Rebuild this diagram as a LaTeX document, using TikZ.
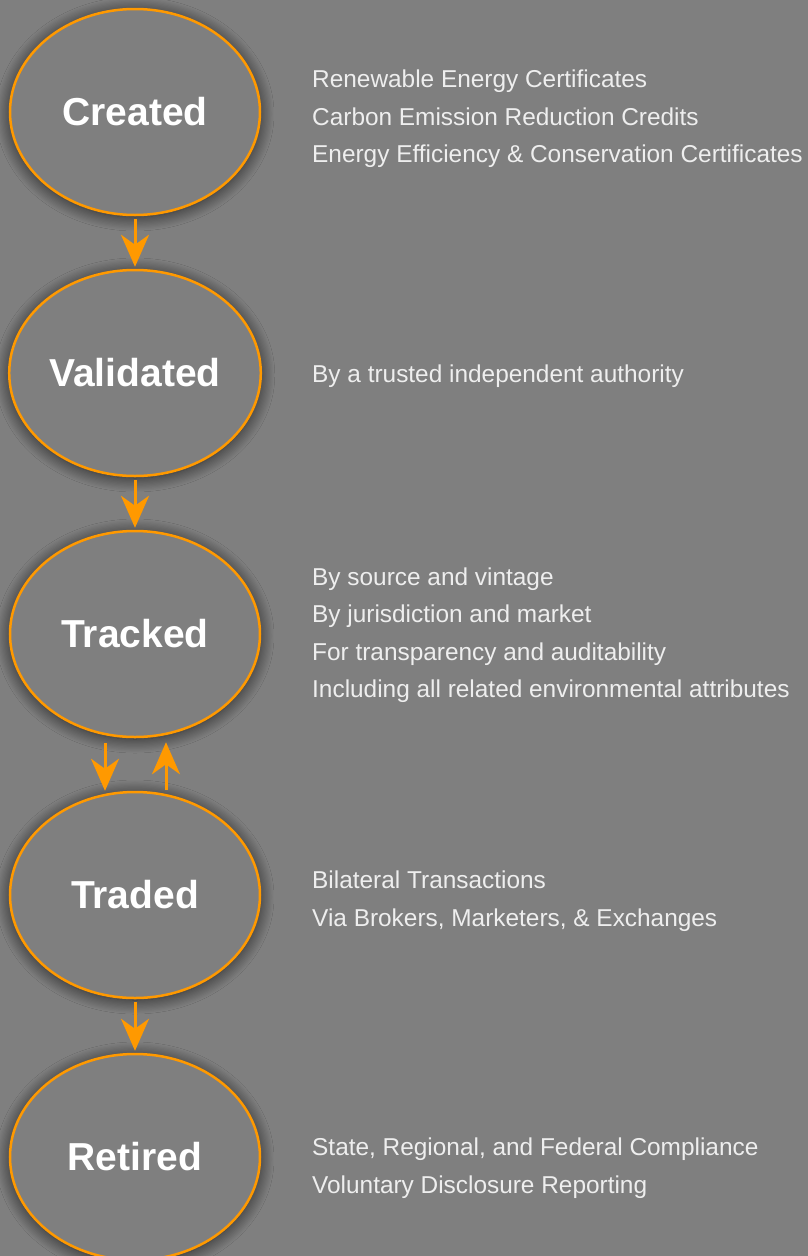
\documentclass[tikz,border=0pt]{standalone}
\usepackage{fontspec}
\setmainfont{Liberation Sans}
\usetikzlibrary{arrows.meta}
\usetikzlibrary{shapes.geometric}
\usetikzlibrary{shadows.blur}

\definecolor{bggray}{RGB}{127,127,127}
\definecolor{amber}{RGB}{255,153,0}
\definecolor{notegray}{RGB}{238,238,238}

\tikzset{
	stage/.style={ellipse, draw=amber, line width=2.5pt, fill=bggray,
		minimum width=250pt, minimum height=206pt, text=white,
		font=\fontsize{39}{44}\selectfont\bfseries,
		blur shadow={shadow xshift=0pt, shadow yshift=-2pt, shadow blur radius=14pt, shadow opacity=75, shadow blur steps=12}},
	note/.style={anchor=west, align=left, inner sep=0pt, text=notegray,
		font=\fontsize{24.4}{37.5}\selectfont},
	flow/.style={draw=amber, line width=3pt, -{Stealth[length=32pt,width=28pt,inset=10pt]}}
}

\begin{document}
\begin{tikzpicture}[x=1pt,y=-1pt]
		\fill[bggray] (0,0) rectangle (808,1256);
		\useasboundingbox (0,0) rectangle (808,1256);
		% the five stages
		\node[stage] (created) at (135,112) {Created};
		\node[stage] (validated) at (135,373) {Validated};
		\node[stage] (tracked) at (135,634) {Tracked};
		\node[stage] (traded) at (135,895) {Traded};
		\node[stage] (retired) at (135,1157) {Retired};
		% notes to the right
		\node[note] (creatednote) at (312,119) {Renewable Energy Certificates\\Carbon Emission Reduction Credits\\Energy Efficiency \& Conservation Certificates};
		\node[note] (validatednote) at (312,376) {By a trusted independent authority};
		\node[note] (trackednote) at (312,635) {By source and vintage\\By jurisdiction and market\\For transparency and auditability\\Including all related environmental attributes};
		\node[note] (tradednote) at (312,901) {Bilateral Transactions\\Via Brokers, Marketers, \& Exchanges};
		\node[note] (retirednote) at (312,1168) {State, Regional, and Federal Compliance\\Voluntary Disclosure Reporting};
		% arrows between stages
		\draw[flow, shorten <=3pt, shorten >=2pt] (created) -- (validated);
		\draw[flow, shorten <=3pt, shorten >=2pt] (validated) -- (tracked);
		\draw[flow, shorten <=5pt] ([xshift=-30pt]tracked.south) -- ([xshift=-30pt]traded.north);
		\draw[flow, shorten <=1pt, shorten >=4pt] ([xshift=31pt]traded.north) -- ([xshift=31pt]tracked.south);
		\draw[flow, shorten <=3pt, shorten >=2pt] (traded) -- (retired);
	\end{tikzpicture}
\end{document}
